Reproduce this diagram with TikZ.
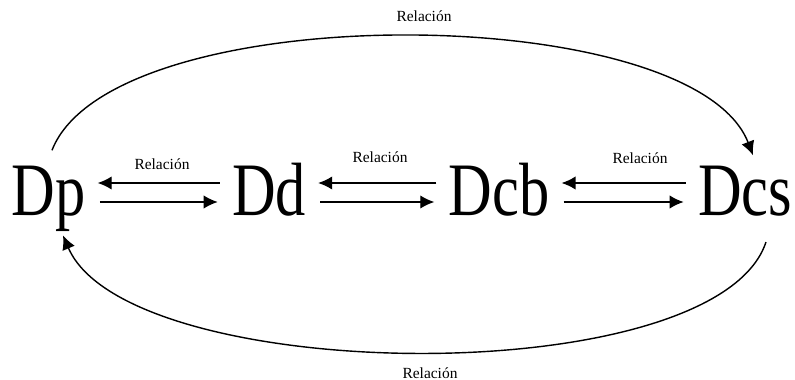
\documentclass[tikz,border=0pt]{standalone}
\usepackage{fontspec}
\setmainfont{Liberation Serif}
\newfontfamily\bigserif[FakeStretch=0.8]{Liberation Serif}
\usetikzlibrary{arrows.meta}

\begin{document}
\begin{tikzpicture}[
  x=0.025cm, y=-0.025cm,
  dom/.style={font=\bigserif\fontsize{53.7}{60}\selectfont, inner xsep=8.5pt,
              inner ysep=0pt, anchor=base},
  lab/.style={font=\fontsize{11}{13}\selectfont, inner sep=0pt},
  arr/.style={-{Latex[length=10pt,width=9.5pt]}, line width=1pt},
]
\useasboundingbox (0,0) rectangle (795,380);
\node[dom] (dp)  at (48.5,215) {Dp};
\node[dom] (dd)  at (269,215)  {Dd};
\node[dom] (dcb) at (499,215)  {Dcb};
\node[dom] (dcs) at (745,215)  {Dcs};
\node[lab] (rel1) at (162,164) {Relación};
\node[lab] (rel2) at (380,157) {Relación};
\node[lab] (rel3) at (640,158) {Relación};
\node[lab] (reltop) at (424,16) {Relación};
\node[lab] (relbot) at (430,373) {Relación};
\draw[arr] ([shift={(0,-32)}]dd.base west) -- ([shift={(0,-32)}]dp.base east);
\draw[arr, shorten <=1.5pt, shorten >=1.5pt] ([shift={(0,-13)}]dp.base east) -- ([shift={(0,-13)}]dd.base west);
\draw[arr] ([shift={(0,-32)}]dcb.base west) -- ([shift={(0,-32)}]dd.base east);
\draw[arr, shorten <=1.5pt, shorten >=1.5pt] ([shift={(0,-13)}]dd.base east) -- ([shift={(0,-13)}]dcb.base west);
\draw[arr] ([shift={(0,-32)}]dcs.base west) -- ([shift={(0,-32)}]dcb.base east);
\draw[arr, shorten <=1.5pt, shorten >=1.5pt] ([shift={(0,-13)}]dcb.base east) -- ([shift={(0,-13)}]dcs.base west);
\draw[arr] ([shift={(3.5,-15)}]dp.north) .. controls +(60,-154) and +(-60,-156) .. ([shift={(8,-10)}]dcs.north);
\draw[arr] ([shift={(21,26)}]dcs.south) .. controls +(-50,151) and +(65,151) .. ([shift={(14.5,4)}]dp.south);
\end{tikzpicture}
\end{document}
